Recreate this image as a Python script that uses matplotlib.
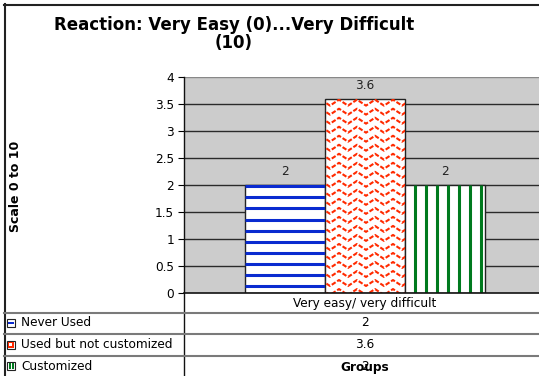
import numpy as np
import matplotlib
matplotlib.use('Agg')
import matplotlib.pyplot as plt
from matplotlib.patches import Rectangle
from matplotlib.lines import Line2D

# chart data
category = 'Very easy/ very difficult'
groups = ['Never Used', 'Used but not customized', 'Customized']
scores = [2, 3.6, 2]
colors = ['#0a2bd0', '#ff2a00', '#007a1e']
yticks = [0, 0.5, 1, 1.5, 2, 2.5, 3, 3.5, 4]

W, H = 539, 376
FS = 8.7
fig = plt.figure(figsize=(W / 100, H / 100), dpi=100)


def fx(x):
    return x / W


def fy(y):
    return 1 - y / H


def fline(x0, y0, x1, y1, **kw):
    fig.add_artist(Line2D([fx(x0), fx(x1)], [fy(y0), fy(y1)],
                          transform=fig.transFigure, **kw))


# plot area (it runs past the right edge of the figure)
ax = fig.add_axes([fx(184), fy(293), 362 / W, 216 / H])
ax.set_facecolor('#cccccc')
ax.set_xlim(-362 / 160, 362 / 160)
ax.set_ylim(0, 4)
ax.set_yticks(yticks)
ax.set_yticklabels(['%g' % t for t in yticks], fontsize=FS)
ax.tick_params(axis='y', length=4, width=0.8, pad=3)
ax.set_xticks([])
for s in ax.spines.values():
    s.set_visible(False)
for t in yticks[1:]:
    ax.axhline(t, color='#888888' if t == 4 else '#2a2a2a', lw=1, zorder=1)

xpos = np.arange(len(groups)) - 1
bars = ax.bar(xpos, scores, width=1, color='white', edgecolor='#222222',
              linewidth=1, zorder=2)

# fill patterns, clipped to each bar
blue, red, green = bars
b = blue
for y in np.arange(b.get_height() - 0.025, 0, -0.205):
    ln = ax.plot([b.get_x(), b.get_x() + b.get_width()], [y, y],
                 color=colors[0], lw=2.2, zorder=3, solid_capstyle='butt')[0]
    ln.set_clip_path(b)

g = green
for k in range(7):
    x = g.get_x() + 0.125 + k * 0.1375
    ln = ax.plot([x, x], [0, g.get_height()], color=colors[2], lw=2.2,
                 zorder=3, solid_capstyle='butt')[0]
    ln.set_clip_path(g)

r = red
zx = np.arange(r.get_x() - 0.05, r.get_x() + r.get_width() + 0.12, 0.1125)
for y in np.arange(r.get_height() - 0.02, -0.2, -0.167):
    zy = y - 0.11 * (np.arange(len(zx)) % 2)
    ln = ax.plot(zx, zy, color=colors[1], lw=1.5, zorder=3,
                 dashes=(2.2, 0.9))[0]
    ln.set_clip_path(r)

for b, v in zip(bars, scores):
    ax.annotate('%g' % v, (b.get_x() + b.get_width() / 2, v),
                xytext=(0, 9.5), textcoords='offset points',
                ha='center', va='center', fontsize=FS, color='#222222')

# title and axis title
fig.text(fx(234), fy(34), 'Reaction: Very Easy (0)...Very Difficult\n(10)',
         ha='center', va='center', fontsize=12, fontweight='bold',
         linespacing=0.95)
fig.text(fx(16), fy(186), 'Scale 0 to 10', rotation=90, ha='center',
         va='center', fontsize=9, fontweight='bold')

# frame, axis lines and data table grid
fline(4, 4.5, W, 4.5, color='#222222', lw=1.5)
fline(4.5, 4, 4.5, H, color='#222222', lw=1.5)
fline(184, 77, 184, H, color='#111111', lw=1)
fline(184, 293, W, 293, color='#111111', lw=1.2)
for y in [313, 334, 356]:
    fline(4, y, W, y, color='#7a7a7a', lw=1.5)

fig.text(fx(365), fy(303), category, ha='center', va='center', fontsize=FS)
row_y = [323, 345, 366]
for name, v, c, y in zip(groups, scores, colors, row_y):
    fig.text(fx(21), fy(y), name, ha='left', va='center', fontsize=FS)
    fig.text(fx(365), fy(y), '%g' % v, ha='center', va='center', fontsize=FS)
    fig.add_artist(Rectangle((fx(7), fy(y + 4)), 8 / W, 8 / H,
                             transform=fig.transFigure, facecolor='white',
                             edgecolor='#222222', lw=0.8))

# legend key markers
fig.add_artist(Rectangle((fx(8), fy(row_y[0] + 1)), 6 / W, 2 / H,
                         transform=fig.transFigure, color=colors[0], lw=0))
fig.add_artist(Rectangle((fx(8), fy(row_y[1] + 3)), 6 / W, 6 / H,
                         transform=fig.transFigure, color=colors[1], lw=0))
fig.add_artist(Rectangle((fx(9), fy(row_y[1] + 1)), 3 / W, 3 / H,
                         transform=fig.transFigure, color='white', lw=0))
for x in [9, 12]:
    fig.add_artist(Rectangle((fx(x), fy(row_y[2] + 3)), 1.5 / W, 6 / H,
                             transform=fig.transFigure, color=colors[2], lw=0))

fig.text(fx(365), fy(367), 'Groups', ha='center', va='center', fontsize=FS,
         fontweight='bold')

fig.savefig('out.png', dpi=100)
